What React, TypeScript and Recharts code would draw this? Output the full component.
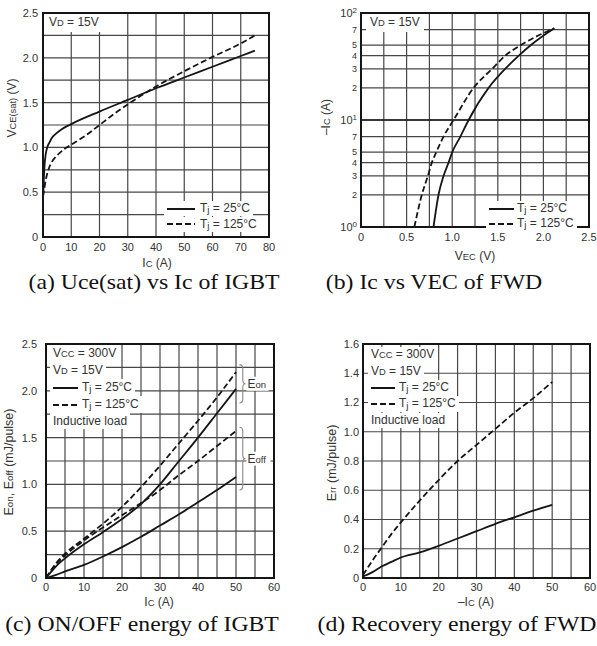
import React from 'react';
import {
  LineChart,
  Line,
  XAxis,
  YAxis,
  CartesianGrid,
  Legend,
  ReferenceArea,
  ReferenceLine,
} from 'recharts';

type Pt = { x: number; y: number };
const pts = (xs: number[], ys: number[]): Pt[] => xs.map((x, i) => ({ x, y: ys[i] }));

const tempNames = ['Tj = 25°C', 'Tj = 125°C'];

// (a) VCE(sat) vs Ic
const satIc25 = [0, 0.3, 0.6, 1, 1.5, 2.2, 3, 4.5, 6.5, 10, 20, 30, 40, 50, 60, 70, 75];
const satV25 = [0.42, 0.65, 0.82, 0.93, 1.0, 1.05, 1.1, 1.15, 1.2, 1.26, 1.4, 1.53, 1.66, 1.78, 1.9, 2.02, 2.08];
const satIc125 = [0, 0.5, 1, 2, 3, 5, 7.5, 10, 15, 20, 25, 30, 40, 50, 60, 70, 75];
const satV125 = [0.45, 0.55, 0.64, 0.76, 0.83, 0.91, 0.98, 1.03, 1.13, 1.25, 1.37, 1.48, 1.68, 1.85, 2.01, 2.16, 2.25];
const satTicksX = [0, 10, 20, 30, 40, 50, 60, 70, 80];
const satTicksY = [0, 0.25, 0.5, 0.75, 1, 1.25, 1.5, 1.75, 2, 2.25, 2.5];

// (b) -Ic vs VEC of the diode, log current axis
const fwdI = [1, 2, 3, 4, 5, 7, 10, 20, 30, 40, 50, 72];
const fwdV25 = [0.795, 0.85, 0.905, 0.96, 1.0, 1.09, 1.18, 1.4, 1.58, 1.73, 1.86, 2.12];
const fwdV125 = [0.585, 0.667, 0.733, 0.777, 0.825, 0.905, 1.015, 1.235, 1.437, 1.583, 1.75, 2.12];
const fwdTicksX = [0, 0.25, 0.5, 0.75, 1, 1.25, 1.5, 1.75, 2, 2.25, 2.5];
const fwdTicksY = [1, 2, 3, 4, 5, 7, 10, 20, 30, 40, 50, 70, 100];

// (c) switching energy
const swIc = [0, 2.5, 5, 10, 15, 20, 25, 30, 35, 40, 45, 50];
const eon25 = [0, 0.12, 0.21, 0.36, 0.49, 0.63, 0.79, 1.0, 1.25, 1.5, 1.76, 2.02];
const eon125 = [0, 0.15, 0.26, 0.42, 0.58, 0.76, 0.97, 1.2, 1.44, 1.68, 1.93, 2.2];
const eoff25 = [0, 0.03, 0.07, 0.14, 0.23, 0.33, 0.44, 0.56, 0.68, 0.81, 0.94, 1.08];
const eoff125 = [0, 0.14, 0.24, 0.4, 0.54, 0.67, 0.8, 0.94, 1.1, 1.25, 1.41, 1.57];
const swTicksX = [0, 5, 10, 15, 20, 25, 30, 35, 40, 45, 50, 55, 60];
const swTicksY = [0, 0.25, 0.5, 0.75, 1, 1.25, 1.5, 1.75, 2, 2.25, 2.5];

// (d) reverse recovery energy
const rrIc = [0, 2.5, 5, 7.5, 10, 15, 20, 25, 30, 35, 40, 45, 50];
const err25 = [0.01, 0.04, 0.08, 0.11, 0.14, 0.175, 0.22, 0.27, 0.32, 0.37, 0.415, 0.46, 0.5];
const err125 = [0.02, 0.12, 0.21, 0.3, 0.38, 0.53, 0.67, 0.8, 0.91, 1.02, 1.13, 1.23, 1.34];
const rrTicksY = [0, 0.2, 0.4, 0.6, 0.8, 1, 1.2, 1.4, 1.6];

const SANS = '"Liberation Sans", Arial, sans-serif';
const SERIF = '"Liberation Serif", "Times New Roman", serif';
const INK = '#151515';
const TXT = '#333';
const GRID = '#474747';
const DASH = '6 3';
const tickStyle = { fontSize: 11, fill: TXT, fontFamily: SANS };

const half = (v: number) => (v % 0.5 === 0 ? (v === 0 ? '0' : v.toFixed(1)) : '');
const tens = (v: number) => (v % 10 === 0 ? String(v) : '');
const oneDp = (v: number) => (v === 0 ? '0' : v.toFixed(1));

const Sm = ({ children }: { children: React.ReactNode }) => (
  <span style={{ fontSize: '0.78em' }}>{children}</span>
);

const tjName = (name: string) => (
  <>
    T<span style={{ fontSize: '0.82em', position: 'relative', top: '0.15em' }}>j</span>
    {name.slice(2)}
  </>
);

const boxStyle: React.CSSProperties = { background: '#fff', display: 'inline-block', padding: '0 3px' };

// key box: optional condition lines, the two temperature entries, optional footer
function keyContent(opts: {
  head?: React.ReactNode[];
  foot?: React.ReactNode[];
  sample: number;
  gap: number;
  row: number;
}) {
  return () => (
    <div
      style={{
        fontFamily: SANS,
        fontSize: 12,
        color: TXT,
        lineHeight: `${opts.row}px`,
        textAlign: 'left',
        whiteSpace: 'nowrap',
      }}
    >
      {(opts.head ?? []).map((h, i) => (
        <div key={'h' + i}>
          <span style={boxStyle}>{h}</span>
        </div>
      ))}
      {tempNames.map((name, i) => (
        <div key={name}>
          <span style={{ ...boxStyle, display: 'inline-flex', alignItems: 'center' }}>
            <svg width={opts.sample} height={8}>
              <line
                x1={0}
                x2={opts.sample}
                y1={4}
                y2={4}
                stroke={INK}
                strokeWidth={2}
                strokeDasharray={i === 1 ? DASH : undefined}
              />
            </svg>
            <span style={{ marginLeft: opts.gap }}>{tjName(name)}</span>
          </span>
        </div>
      ))}
      {(opts.foot ?? []).map((f, i) => (
        <div key={'f' + i}>
          <span style={boxStyle}>{f}</span>
        </div>
      ))}
    </div>
  );
}

// tick labels for the log axis: 10^n at decades, leading digit elsewhere
function LogTick(props: any) {
  const { x, y, payload } = props;
  const v: number = payload.value;
  const exp = Math.round(Math.log10(v));
  const decade = Math.abs(Math.pow(10, exp) - v) < 1e-9;
  return (
    <text x={x} y={y} dy="0.35em" textAnchor="end" fontSize={decade ? 11 : 9} fill={TXT} fontFamily={SANS}>
      {decade ? (
        <>
          10
          <tspan dy="-0.45em" fontSize={8}>
            {exp}
          </tspan>
        </>
      ) : (
        String(v / Math.pow(10, Math.floor(Math.log10(v) + 1e-9)))
      )}
    </text>
  );
}

// curly bracket grouping the energy curves, with its tag
function Brace(props: any) {
  const { x, y, width, height, tag } = props;
  const mid = y + height / 2;
  const bx = x + width * 0.55;
  const r = 4;
  const d =
    `M${x},${y} Q${bx},${y} ${bx},${y + r} L${bx},${mid - r} Q${bx},${mid} ${x + width},${mid} ` +
    `Q${bx},${mid} ${bx},${mid + r} L${bx},${y + height - r} Q${bx},${y + height} ${x},${y + height}`;
  const tw = tag === 'on' ? 22 : 24;
  return (
    <g>
      <path d={d} fill="none" stroke="#8a8a8a" strokeWidth={1.1} />
      <rect x={x + width + 1} y={mid - 7} width={tw} height={14} fill="#fff" />
      <text x={x + width + 2} y={mid} dy="0.35em" fontSize={12} fill={TXT} fontFamily={SANS}>
        E<tspan fontSize={9.5}>{tag}</tspan>
      </text>
    </g>
  );
}

const Frame = ({ x, y }: { x: [number, number]; y: [number, number] }) => (
  <ReferenceArea x1={x[0]} x2={x[1]} y1={y[0]} y2={y[1]} fill="none" stroke={INK} strokeWidth={2} />
);

function Title(props: { cx: number; cy: number; rotate?: boolean; size?: number; children: React.ReactNode }) {
  return (
    <div
      style={{
        position: 'absolute',
        left: props.cx,
        top: props.cy,
        transform: `translate(-50%, -50%)${props.rotate ? ' rotate(-90deg)' : ''}`,
        fontFamily: SANS,
        fontSize: props.size ?? 12,
        color: TXT,
        whiteSpace: 'nowrap',
        lineHeight: 1,
      }}
    >
      {props.children}
    </div>
  );
}

function Caption(props: { cx: number; top: number; children: React.ReactNode }) {
  return (
    <div
      style={{
        position: 'absolute',
        left: props.cx,
        top: props.top,
        transform: 'translateX(-50%) scaleX(1.13)',
        fontFamily: SERIF,
        fontSize: 21,
        lineHeight: '21px',
        color: '#111',
        whiteSpace: 'nowrap',
      }}
    >
      {props.children}
    </div>
  );
}

function Note(props: { left: number; top: number; children: React.ReactNode }) {
  return (
    <div
      style={{
        position: 'absolute',
        left: props.left,
        top: props.top,
        background: '#fff',
        padding: '1px 4px',
        fontFamily: SANS,
        fontSize: 12,
        lineHeight: '15px',
        color: TXT,
        whiteSpace: 'nowrap',
      }}
    >
      {props.children}
    </div>
  );
}

const lineProps = {
  type: 'monotone' as const,
  dataKey: 'y',
  stroke: INK,
  strokeWidth: 1.8,
  dot: false,
  isAnimationActive: false,
};

const legendPos = { layout: 'horizontal' as const, verticalAlign: 'middle' as const, align: 'center' as const };

export default function App() {
  return (
    <div
      style={{
        position: 'absolute',
        left: 0,
        top: 0,
        width: 597,
        height: 646,
        background: '#fff',
        overflow: 'hidden',
      }}
    >
      {/* (a) */}
      <div style={{ position: 'absolute', left: 0, top: 0 }}>
        <LineChart width={300} height={275} margin={{ top: 13, right: 31, bottom: 0, left: 0 }}>
          <CartesianGrid stroke={GRID} strokeWidth={1.2} />
          <XAxis dataKey="x" type="number" domain={[0, 80]} ticks={satTicksX} interval={0} tickLine={false}
            axisLine={false} tickSize={4} tick={tickStyle} tickFormatter={tens} height={38} />
          <YAxis type="number" domain={[0, 2.5]} ticks={satTicksY} interval={0} tickLine={false}
            axisLine={false} tickSize={3} tick={tickStyle} tickFormatter={half} width={43} />
          <Line {...lineProps} name={tempNames[0]} data={pts(satIc25, satV25)} />
          <Line {...lineProps} name={tempNames[1]} data={pts(satIc125, satV125)} strokeDasharray={DASH} />
          <Frame x={[0, 80]} y={[0, 2.5]} />
          <Legend {...legendPos} wrapperStyle={{ left: 164, top: 201, width: 'auto', height: 'auto' }}
            content={keyContent({ sample: 28, gap: 5, row: 15 })} />
        </LineChart>
      </div>

      {/* (b) */}
      <div style={{ position: 'absolute', left: 300, top: 0 }}>
        <LineChart width={297} height={275} margin={{ top: 13, right: 8, bottom: 0, left: 0 }}>
          <CartesianGrid stroke={GRID} strokeWidth={1.2} />
          <XAxis dataKey="x" type="number" domain={[0, 2.5]} ticks={fwdTicksX} interval={0} tickLine={false}
            axisLine={false} tickSize={4} tick={tickStyle} tickFormatter={half} height={48} />
          <YAxis type="number" scale="log" domain={[1, 100]} allowDataOverflow ticks={fwdTicksY} interval={0}
            tickLine={false} axisLine={false} tickSize={2} tick={<LogTick />} width={61} />
          <ReferenceLine y={10} stroke={INK} strokeWidth={1.6} />
          <Line {...lineProps} name={tempNames[0]} data={pts(fwdV25, fwdI)} />
          <Line {...lineProps} name={tempNames[1]} data={pts(fwdV125, fwdI)} strokeDasharray={DASH} />
          <Frame x={[0, 2.5]} y={[1, 100]} />
          <Legend {...legendPos} wrapperStyle={{ left: 186, top: 201, width: 'auto', height: 'auto' }}
            content={keyContent({ sample: 25, gap: 3, row: 14 })} />
        </LineChart>
      </div>

      {/* (c) */}
      <div style={{ position: 'absolute', left: 0, top: 320 }}>
        <LineChart width={300} height={290} margin={{ top: 24, right: 26, bottom: 0, left: 0 }}>
          <CartesianGrid stroke={GRID} strokeWidth={1.2} />
          <XAxis dataKey="x" type="number" domain={[0, 60]} ticks={swTicksX} interval={0} tickLine={false}
            axisLine={false} tickSize={3} tick={tickStyle} tickFormatter={tens} height={32} />
          <YAxis type="number" domain={[0, 2.5]} ticks={swTicksY} interval={0} tickLine={false}
            axisLine={false} tickSize={7} tick={tickStyle} tickFormatter={half} width={46} />
          <Line {...lineProps} name="Eon 25°C" data={pts(swIc, eon25)} />
          <Line {...lineProps} name="Eon 125°C" data={pts(swIc, eon125)} strokeDasharray={DASH} />
          <Line {...lineProps} name="Eoff 25°C" data={pts(swIc, eoff25)} />
          <Line {...lineProps} name="Eoff 125°C" data={pts(swIc, eoff125)} strokeDasharray={DASH} />
          <ReferenceArea x1={50.9} x2={52.5} y1={1.87} y2={2.28} shape={(p: any) => <Brace {...p} tag="on" />} />
          <ReferenceArea x1={50.9} x2={52.5} y1={0.94} y2={1.61} shape={(p: any) => <Brace {...p} tag="off" />} />
          <Frame x={[0, 60]} y={[0, 2.5]} />
          <Legend {...legendPos} wrapperStyle={{ left: 50, top: 25, width: 'auto', height: 'auto' }}
            content={keyContent({
              sample: 25,
              gap: 4,
              row: 16,
              head: [<>V<Sm>CC</Sm> = 300V</>, <>V<Sm>D</Sm> = 15V</>],
              foot: ['Inductive load'],
            })} />
        </LineChart>
      </div>

      {/* (d) */}
      <div style={{ position: 'absolute', left: 300, top: 320 }}>
        <LineChart width={297} height={290} margin={{ top: 24, right: 7, bottom: 0, left: 0 }}>
          <CartesianGrid stroke={GRID} strokeWidth={1.2} />
          <XAxis dataKey="x" type="number" domain={[0, 60]} ticks={swTicksX} interval={0} tickLine={false}
            axisLine={false} tickSize={3} tick={tickStyle} tickFormatter={tens} height={32} />
          <YAxis type="number" domain={[0, 1.6]} ticks={rrTicksY} interval={0} tickLine={false}
            axisLine={false} tickSize={2} tick={tickStyle} tickFormatter={oneDp} width={63} />
          <Line {...lineProps} name={tempNames[0]} data={pts(rrIc, err25)} />
          <Line {...lineProps} name={tempNames[1]} data={pts(rrIc, err125)} strokeDasharray={DASH} />
          <Frame x={[0, 60]} y={[0, 1.6]} />
          <Legend {...legendPos} wrapperStyle={{ left: 68, top: 27, width: 'auto', height: 'auto' }}
            content={keyContent({
              sample: 24,
              gap: 4,
              row: 15.5,
              head: [<>V<Sm>CC</Sm> = 300V</>, <>V<Sm>D</Sm> = 15V</>],
              foot: ['Inductive load'],
            })} />
        </LineChart>
      </div>

      <Note left={45} top={14}>V<Sm>D</Sm> = 15V</Note>
      <Note left={366} top={14}>V<Sm>D</Sm> = 15V</Note>

      <Title cx={157} cy={263}>I<Sm>C</Sm> (A)</Title>
      <Title cx={12} cy={108} rotate>V<Sm>CE(sat)</Sm> (V)</Title>
      <Title cx={475} cy={256}>V<Sm>EC</Sm> (V)</Title>
      <Title cx={326} cy={117} rotate>–I<Sm>C</Sm> (A)</Title>
      <Title cx={159} cy={602}>I<Sm>C</Sm> (A)</Title>
      <Title cx={9} cy={462} rotate size={12.5}>E<Sm>on</Sm>, E<Sm>off</Sm> (mJ/pulse)</Title>
      <Title cx={476} cy={602}>–I<Sm>C</Sm> (A)</Title>
      <Title cx={332} cy={463} rotate size={12.5}>E<Sm>rr</Sm> (mJ/pulse)</Title>

      <Caption cx={154} top={272}>(a) Uce(sat) vs Ic of IGBT</Caption>
      <Caption cx={434} top={272}>(b) Ic vs VEC of FWD</Caption>
      <Caption cx={142} top={614}>(c) ON/OFF energy of IGBT</Caption>
      <Caption cx={457} top={614}>(d) Recovery energy of FWD</Caption>
    </div>
  );
}
